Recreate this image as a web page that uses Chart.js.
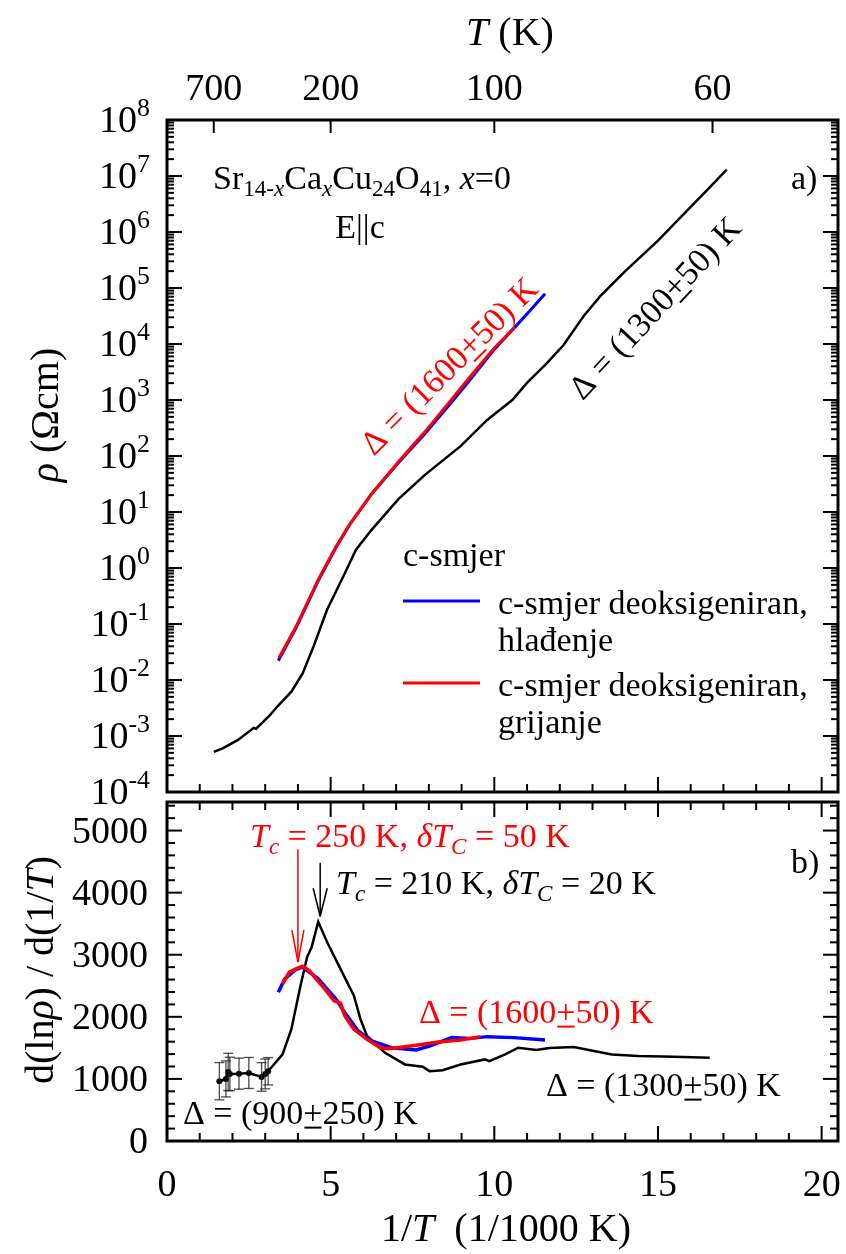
<!DOCTYPE html>
<html>
<head>
<meta charset="utf-8">
<script src="https://cdn.jsdelivr.net/npm/chart.js@4.4.0/dist/chart.umd.min.js"></script>
<style>
  html, body { margin: 0; padding: 0; background: #fff; }
  #wrap { position: relative; width: 846px; height: 1254px; }
  canvas { position: absolute; left: 0; top: 0; }
</style>
</head>
<body>
<div id="wrap">
  <canvas id="rhoChart" width="846" height="1254"></canvas>
  <canvas id="derivChart" width="846" height="1254"></canvas>
</div>
<script>
// axis ranges and tick labels
const X_MAX = 20.5;
const X_TICKS = [0, 5, 10, 15, 20];
const T_TICKS = [700, 200, 100, 60];
const RHO_EXP = [-4, -3, -2, -1, 0, 1, 2, 3, 4, 5, 6, 7, 8];
const D_MAX = 5460;
const D_TICKS = [0, 1000, 2000, 3000, 4000, 5000];

// a) resistivity vs 1/T (1/1000 K)
const invT_c = [1.43, 1.70, 2.17, 2.65, 2.72, 2.85, 3.13, 3.40, 3.80, 4.14, 4.48, 4.89, 5.43, 5.77, 6.25, 7.07, 7.88, 8.97, 9.78, 10.55, 10.99, 11.6, 12.11, 12.72, 13.23, 14.0, 15.0, 16.0, 16.5, 17.1];
const rho_c = [5.2e-4, 6.0e-4, 8.5e-4, 1.4e-3, 1.35e-3, 1.6e-3, 2.3e-3, 3.5e-3, 6.2e-3, 1.3e-2, 4.0e-2, 0.18, 0.80, 2.1, 4.8, 17, 46, 150, 440, 1000, 2000, 4500, 9500, 3.1e4, 7.1e4, 2.0e5, 7.0e5, 2.8e6, 5.6e6, 1.3e7];

const invT_cool = [3.40, 3.94, 4.62, 5.16, 5.57, 6.25, 7.07, 7.88, 8.75, 9.26, 10.0, 10.63, 11.1, 11.55];
const rho_cool = [0.022, 0.085, 0.59, 2.3, 5.8, 21, 76, 250, 1000, 2300, 8000, 2.0e4, 4.0e4, 7.9e4];

const invT_heat = [3.42, 3.94, 4.62, 5.16, 5.57, 6.25, 7.07, 7.88, 8.75, 9.26, 10.0, 10.63];
const rho_heat = [0.025, 0.089, 0.62, 2.4, 5.9, 21, 79, 270, 1120, 2600, 8500, 2.0e4];

// b) d(ln rho)/d(1/T)
const invT_dc = [1.60, 1.80, 1.87, 1.92, 2.20, 2.50, 2.89, 3.00, 3.09, 3.53, 3.80, 4.08, 4.28, 4.42, 4.62, 4.89, 5.30, 5.71, 5.91, 6.11, 6.66, 7.27, 7.81, 8.02, 8.42, 8.97, 9.71, 9.85, 10.33, 10.73, 11.28, 11.68, 12.43, 13.04, 13.59, 14.4, 15.49, 16.58];
const d_c = [963, 1000, 1112, 1080, 1085, 1096, 1032, 1080, 1124, 1395, 1800, 2503, 2962, 3124, 3530, 3206, 2773, 2340, 1962, 1692, 1422, 1233, 1195, 1125, 1141, 1233, 1314, 1287, 1395, 1503, 1465, 1498, 1514, 1449, 1395, 1368, 1357, 1341];
const ERR_N = 9;
const d_err = [300, 290, 300, 270, 250, 250, 230, 240, 220];

const invT_dcool = [3.40, 3.60, 3.94, 4.14, 4.62, 5.16, 5.43, 5.84, 6.25, 6.86, 7.61, 8.02, 8.70, 9.24, 9.78, 10.6, 11.55];
const d_cool = [2395, 2611, 2762, 2800, 2611, 2287, 2070, 1773, 1611, 1503, 1465, 1530, 1665, 1649, 1681, 1665, 1627];

const invT_dheat = [3.53, 3.74, 3.94, 4.14, 4.35, 4.55, 4.82, 5.10, 5.30, 5.43, 5.71, 6.11, 6.52, 6.79, 7.61, 8.29, 8.97, 9.58];
const d_heat = [2530, 2719, 2773, 2816, 2746, 2611, 2449, 2260, 2222, 2016, 1800, 1638, 1503, 1487, 1541, 1595, 1627, 1681];

const FONT = '"Liberation Serif", "Times New Roman", serif';

function pts(xs, ys) {
  return xs.map((x, i) => ({ x: x, y: ys[i] }));
}

function font(size, italic) {
  return (italic ? 'italic ' : '') + size + 'px ' + FONT;
}

// draws a run of segments: {t, it, sub, sup, ul}; y is the text's middle
function rich(ctx, segs, x, y, size, align, color) {
  const base = y + size * 0.32;
  let w = 0;
  segs.forEach(s => {
    ctx.font = font(s.sub || s.sup ? size * 0.68 : size, s.it);
    w += ctx.measureText(s.t).width;
  });
  let cx = align === 'center' ? x - w / 2 : align === 'right' ? x - w : x;
  ctx.fillStyle = color || '#000';
  ctx.textAlign = 'left';
  ctx.textBaseline = 'alphabetic';
  segs.forEach(s => {
    const fs = s.sub || s.sup ? size * 0.68 : size;
    ctx.font = font(fs, s.it);
    const dy = s.sub ? size * 0.22 : s.sup ? -size * 0.42 : 0;
    ctx.fillText(s.t, cx, base + dy);
    const tw = ctx.measureText(s.t).width;
    if (s.ul) ctx.fillRect(cx + 1, base + size * 0.08, tw - 2, 2);
    cx += tw;
  });
}

function line(ctx, x0, y0, x1, y1) {
  ctx.beginPath();
  ctx.moveTo(x0, y0);
  ctx.lineTo(x1, y1);
  ctx.stroke();
}

function frame(ctx, a) {
  ctx.save();
  ctx.strokeStyle = '#000';
  ctx.lineWidth = 3;
  ctx.strokeRect(a.left, a.top, a.right - a.left, a.bottom - a.top);
  ctx.restore();
}

// inward ticks along the bottom/top edges every 1 unit
function xTicks(ctx, chart, top, bottom) {
  const a = chart.chartArea, xs = chart.scales.x;
  ctx.lineWidth = 2;
  for (let v = 1; v <= 20; v++) {
    const px = xs.getPixelForValue(v);
    const len = v % 5 === 0 ? 15 : 8;
    if (bottom) line(ctx, px, a.bottom, px, a.bottom - len);
    if (top) line(ctx, px, a.top, px, a.top + len);
  }
}

function deltaLabel(num, err) {
  return [{ t: 'Δ = (' + num }, { t: '+', ul: true }, { t: err + ') K' }];
}

const rhoDecor = {
  id: 'rhoDecor',
  afterDraw(chart) {
    const ctx = chart.ctx, a = chart.chartArea;
    const xs = chart.scales.x, ys = chart.scales.y;
    ctx.save();
    frame(ctx, a);
    ctx.strokeStyle = '#000';

    // log ticks on both sides
    ctx.lineWidth = 2;
    RHO_EXP.forEach(e => {
      const py = ys.getPixelForValue(Math.pow(10, e));
      line(ctx, a.left, py, a.left + 15, py);
      line(ctx, a.right, py, a.right - 15, py);
      if (e < 8) {
        for (let m = 2; m <= 9; m++) {
          const pm = ys.getPixelForValue(m * Math.pow(10, e));
          line(ctx, a.left, pm, a.left + 7, pm);
          line(ctx, a.right, pm, a.right - 7, pm);
        }
      }
      rich(ctx, [{ t: '10' }, { t: String(e), sup: true }], 150, py, 38, 'right');
    });

    xTicks(ctx, chart, false, true);

    // temperature scale on the top edge
    T_TICKS.forEach(T => {
      const px = xs.getPixelForValue(1000 / T);
      ctx.lineWidth = 2;
      line(ctx, px, a.top, px, a.top + 13);
      rich(ctx, [{ t: String(T) }], px, 88, 38, 'center');
    });
    rich(ctx, [{ t: 'T', it: true }, { t: ' (K)' }], 510, 32, 40, 'center');

    // y title
    ctx.save();
    ctx.translate(45, 415);
    ctx.rotate(-Math.PI / 2);
    rich(ctx, [{ t: 'ρ', it: true }, { t: ' (Ωcm)' }], 0, 0, 40, 'center');
    ctx.restore();

    rich(ctx, [{ t: 'Sr' }, { t: '14-', sub: true }, { t: 'x', sub: true, it: true }, { t: 'Ca' }, { t: 'x', sub: true, it: true },
      { t: 'Cu' }, { t: '24', sub: true }, { t: 'O' }, { t: '41', sub: true }, { t: ', ' }, { t: 'x', it: true }, { t: '=0' }],
      213, 178, 34, 'left');
    rich(ctx, [{ t: 'E||c' }], 360, 227, 34, 'center');
    rich(ctx, [{ t: 'a)' }], 791, 178, 34, 'left');

    // slope labels along the curves
    ctx.save();
    ctx.translate(449, 366);
    ctx.rotate(-45 * Math.PI / 180);
    rich(ctx, deltaLabel('1600', '50'), 0, 0, 34, 'center', '#ff0000');
    ctx.restore();
    ctx.save();
    ctx.translate(655, 308);
    ctx.rotate(-47 * Math.PI / 180);
    rich(ctx, deltaLabel('1300', '50'), 0, 0, 34, 'center', '#000');
    ctx.restore();

    // legend
    const ds = chart.data.datasets;
    rich(ctx, [{ t: ds[0].label }], 403, 555, 34, 'left');
    [[ds[1], 601, 'hlađenje'], [ds[2], 683, 'grijanje']].forEach(([d, y, second]) => {
      ctx.strokeStyle = d.borderColor;
      ctx.lineWidth = 3;
      line(ctx, 403, y, 480, y);
      rich(ctx, [{ t: d.label.split(', ')[0] + ',' }], 498, y + 2, 34, 'left');
      rich(ctx, [{ t: second }], 498, y + 39, 34, 'left');
    });
    ctx.restore();
  }
};

function arrow(ctx, px, y0, y1, color, hw, hl) {
  ctx.strokeStyle = color;
  ctx.lineWidth = 1.5;
  line(ctx, px, y0, px, y1);
  line(ctx, px - hw, y1 - hl, px, y1);
  line(ctx, px + hw, y1 - hl, px, y1);
}

const derivDecor = {
  id: 'derivDecor',
  afterDatasetsDraw(chart) {
    const ctx = chart.ctx, xs = chart.scales.x, ys = chart.scales.y;
    ctx.save();
    ctx.strokeStyle = 'rgba(30,30,30,0.8)';
    ctx.lineWidth = 1.3;
    for (let i = 0; i < ERR_N; i++) {
      const px = xs.getPixelForValue(invT_dc[i]);
      const hi = ys.getPixelForValue(d_c[i] + d_err[i]);
      const lo = ys.getPixelForValue(d_c[i] - d_err[i]);
      line(ctx, px, hi, px, lo);
      line(ctx, px - 5, hi, px + 5, hi);
      line(ctx, px - 5, lo, px + 5, lo);
    }
    ctx.restore();
  },
  afterDraw(chart) {
    const ctx = chart.ctx, a = chart.chartArea;
    const xs = chart.scales.x, ys = chart.scales.y;
    ctx.save();
    frame(ctx, a);
    ctx.strokeStyle = '#000';
    xTicks(ctx, chart, true, true);

    ctx.lineWidth = 2;
    for (let v = 200; v < D_MAX; v += 200) {
      const py = ys.getPixelForValue(v);
      const len = v % 1000 === 0 ? 15 : 8;
      line(ctx, a.left, py, a.left + len, py);
      line(ctx, a.right, py, a.right - len, py);
    }
    D_TICKS.forEach(v => rich(ctx, [{ t: String(v) }], 148, ys.getPixelForValue(v), 38, 'right'));
    X_TICKS.forEach(v => rich(ctx, [{ t: String(v) }], xs.getPixelForValue(v), 1184, 38, 'center'));

    rich(ctx, [{ t: '1/' }, { t: 'T', it: true }, { t: '  (1/1000 K)' }], 506, 1228, 40, 'center');
    ctx.save();
    ctx.translate(40, 970);
    ctx.rotate(-Math.PI / 2);
    rich(ctx, [{ t: 'd(ln' }, { t: 'ρ', it: true }, { t: ') / d(1/' }, { t: 'T', it: true }, { t: ')' }], 0, 0, 40, 'center');
    ctx.restore();

    // transition temperatures
    arrow(ctx, xs.getPixelForValue(4.0), ys.getPixelForValue(4700), ys.getPixelForValue(2880), '#ff0000', 6, 32);
    arrow(ctx, xs.getPixelForValue(4.68), ys.getPixelForValue(4480), ys.getPixelForValue(3620), '#000', 7, 28);
    rich(ctx, [{ t: 'T', it: true }, { t: 'c', it: true, sub: true }, { t: ' = 250 K, ' }, { t: 'δT', it: true }, { t: 'C', it: true, sub: true }, { t: ' = 50 K' }],
      250, 836, 34, 'left', '#ff0000');
    rich(ctx, [{ t: 'T', it: true }, { t: 'c', it: true, sub: true }, { t: ' = 210 K, ' }, { t: 'δT', it: true }, { t: 'C', it: true, sub: true }, { t: ' = 20 K' }],
      336, 883, 34, 'left', '#000');
    rich(ctx, [{ t: 'b)' }], 791, 862, 34, 'left');

    rich(ctx, deltaLabel('1600', '50'), 419, 1012, 34, 'left', '#ff0000');
    rich(ctx, deltaLabel('1300', '50'), 546, 1085, 34, 'left', '#000');
    rich(ctx, deltaLabel('900', '250'), 183, 1113, 34, 'left', '#000');
    ctx.restore();
  }
};

const commonOpts = {
  responsive: false,
  animation: false,
  devicePixelRatio: 1,
  plugins: { legend: { display: false }, tooltip: { enabled: false } },
  elements: { point: { radius: 0 }, line: { tension: 0 } }
};

new Chart(document.getElementById('rhoChart'), {
  type: 'line',
  data: {
    datasets: [
      { label: 'c-smjer', data: pts(invT_c, rho_c), borderColor: '#000', borderWidth: 2.5, order: 2 },
      { label: 'c-smjer deoksigeniran, hlađenje', data: pts(invT_cool, rho_cool), borderColor: '#0000ff', borderWidth: 3, order: 1 },
      { label: 'c-smjer deoksigeniran, grijanje', data: pts(invT_heat, rho_heat), borderColor: '#ff0000', borderWidth: 3, order: 0 }
    ]
  },
  options: Object.assign({}, commonOpts, {
    layout: { padding: { left: 167, right: 8, top: 120, bottom: 462 } },
    scales: {
      x: { type: 'linear', min: 0, max: X_MAX, display: false },
      y: { type: 'logarithmic', min: 1e-4, max: 1e8, display: false }
    }
  }),
  plugins: [rhoDecor]
});

new Chart(document.getElementById('derivChart'), {
  type: 'line',
  data: {
    datasets: [
      {
        label: 'c-smjer', data: pts(invT_dc, d_c), borderColor: '#000', borderWidth: 2.5, order: 2,
        pointRadius: c => (c.dataIndex < ERR_N ? 3 : 0), pointBackgroundColor: '#000', pointBorderWidth: 0
      },
      { label: 'hlađenje', data: pts(invT_dcool, d_cool), borderColor: '#0000ff', borderWidth: 3.5, order: 1 },
      { label: 'grijanje', data: pts(invT_dheat, d_heat), borderColor: '#ff0000', borderWidth: 3.5, order: 0 }
    ]
  },
  options: Object.assign({}, commonOpts, {
    layout: { padding: { left: 167, right: 8, top: 802, bottom: 113 } },
    scales: {
      x: { type: 'linear', min: 0, max: X_MAX, display: false },
      y: { type: 'linear', min: 0, max: D_MAX, display: false }
    }
  }),
  plugins: [derivDecor]
});
</script>
</body>
</html>
